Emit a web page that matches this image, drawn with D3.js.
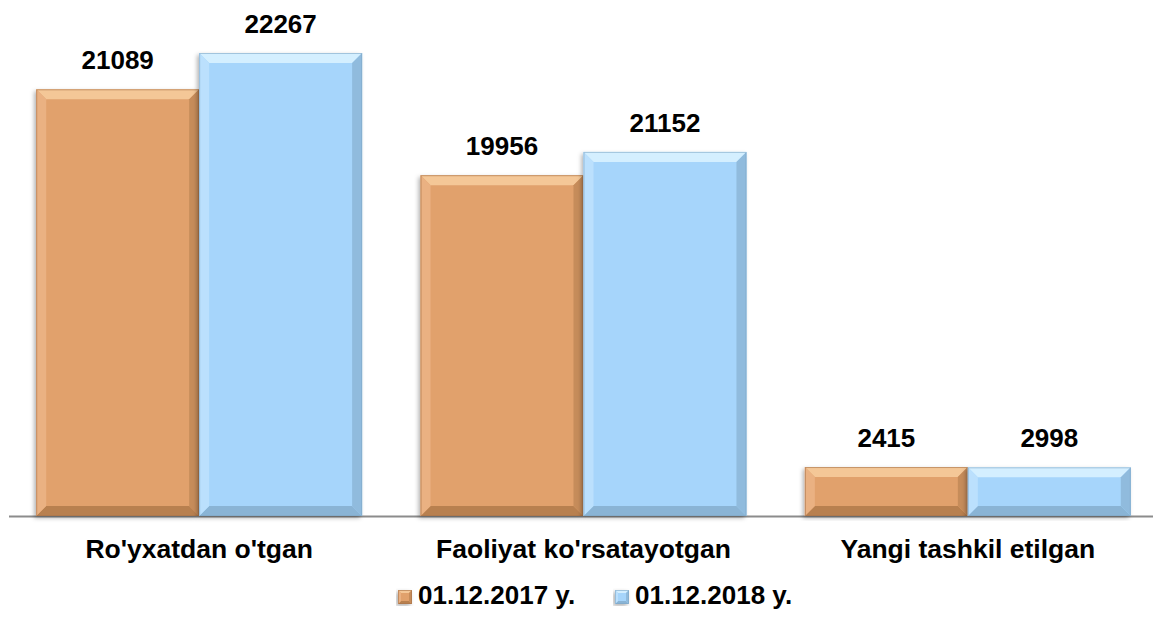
<!DOCTYPE html>
<html lang="uz">
<head>
    <meta charset="UTF-8">
    <title>Ro'yxatdan o'tgan korxonalar</title>
    <script src="https://cdn.jsdelivr.net/npm/d3@7/dist/d3.min.js"></script>
    <style>
        html, body { margin: 0; padding: 0; background: #fff; }
        svg { display: block; font-family: "Liberation Sans", Arial, sans-serif; }
        .val-label { font-size: 26px; font-weight: bold; fill: #000; }
        .cat-label { font-size: 26.5px; font-weight: bold; fill: #000; }
        .legend-text { font-size: 26px; font-weight: bold; fill: #000; }
    </style>
</head>
<body>
    <svg id="chart" width="1153" height="623"></svg>
    <script>
        // Данные
        const categories = ["Ro'yxatdan o'tgan", "Faoliyat ko'rsatayotgan", "Yangi tashkil etilgan"];
        const seriesNames = ["01.12.2017 y.", "01.12.2018 y."];
        // подписи на столбиках
        const labels2017 = [21089, 19956, 2415];
        const labels2018 = [22267, 21152, 2998];
        // высоты столбиков как на картинке (в оригинале не пропорциональны подписям)
        const bars2017 = [20520, 16390, 2355];
        const bars2018 = [22267, 17510, 2340];

        const colors = [
            { main: '#E1A16C', top: '#F4C797', bottom: '#B8804F', left: '#EAB182', right: '#C68C5A', edge: '#A8734A' },
            { main: '#A6D5FB', top: '#D4EFFF', bottom: '#8AB4D5', left: '#BBE0FD', right: '#90BBDD', edge: '#7EA6C6' }
        ];

        const svg = d3.select('#chart');
        const baseY = 516;

        const defs = svg.append('defs');
        const f = defs.append('filter').attr('id', 'shadow')
            .attr('x', '-10%').attr('y', '-10%').attr('width', '120%').attr('height', '120%');
        f.append('feDropShadow').attr('dx', -2).attr('dy', 2).attr('stdDeviation', 2)
            .attr('flood-color', '#000').attr('flood-opacity', 0.3);

        const x0 = d3.scaleBand().domain(categories).range([7, 1160])
            .paddingInner(0.152).paddingOuter(0.076);
        const x1 = d3.scaleBand().domain([0, 1]).range([0, x0.bandwidth()]);
        const y = d3.scaleLinear().domain([0, 22267]).range([baseY, 53]);

        const rows = [];
        categories.forEach((c, i) => {
            rows.push({ cat: c, s: 0, v: bars2017[i], label: labels2017[i] });
            rows.push({ cat: c, s: 1, v: bars2018[i], label: labels2018[i] });
        });

        // ось
        svg.append('line')
            .attr('x1', 9).attr('x2', 1153)
            .attr('y1', baseY + 0.5).attr('y2', baseY + 0.5)
            .attr('stroke', '#8C8C8C').attr('stroke-width', 2);

        // столбики с фаской
        function bevelBar(g, x, yt, w, h, col, b) {
            const x2 = x + w, y2 = yt + h;
            b = Math.min(b, h / 2, w / 2);
            g.append('rect').attr('x', x).attr('y', yt).attr('width', w).attr('height', h)
                .attr('fill', col.main).attr('filter', 'url(#shadow)');
            const poly = (pts, fill) => g.append('polygon')
                .attr('points', pts.map(p => p.join(',')).join(' ')).attr('fill', fill);
            poly([[x, yt], [x2, yt], [x2 - b, yt + b], [x + b, yt + b]], col.top);
            poly([[x, y2], [x2, y2], [x2 - b, y2 - b], [x + b, y2 - b]], col.bottom);
            poly([[x, yt], [x + b, yt + b], [x + b, y2 - b], [x, y2]], col.left);
            poly([[x2, yt], [x2 - b, yt + b], [x2 - b, y2 - b], [x2, y2]], col.right);
            g.append('rect').attr('x', x + 0.5).attr('y', yt + 0.5).attr('width', w - 1).attr('height', h - 1)
                .attr('fill', 'none').attr('stroke', col.edge).attr('stroke-width', 1).attr('stroke-opacity', 0.6);
        }

        const barsG = svg.append('g');
        rows.forEach(d => {
            const bx = x0(d.cat) + x1(d.s);
            const by = y(d.v);
            bevelBar(barsG, bx, by, x1.bandwidth(), baseY - by, colors[d.s], 10);
        });

        // подписи значений
        svg.append('g').selectAll('text')
            .data(rows)
            .enter()
            .append('text')
            .attr('class', 'val-label')
            .attr('x', d => x0(d.cat) + x1(d.s) + x1.bandwidth() / 2)
            .attr('y', d => y(d.v) - 20)
            .attr('text-anchor', 'middle')
            .text(d => d.label);

        // категории
        svg.append('g').selectAll('text')
            .data(categories)
            .enter()
            .append('text')
            .attr('class', 'cat-label')
            .attr('x', d => x0(d) + x0.bandwidth() / 2)
            .attr('y', 558)
            .attr('text-anchor', 'middle')
            .text(d => d);

        // легенда
        const legendX = [398, 615];
        const lg = svg.append('g');
        seriesNames.forEach((name, i) => {
            const g = lg.append('g').attr('transform', `translate(${legendX[i]},${590})`);
            bevelBar(g, 0, 0, 14, 14, colors[i], 3);
            g.append('text').attr('class', 'legend-text')
                .attr('x', 20).attr('y', 14)
                .text(name);
        });
    </script>
</body>
</html>
